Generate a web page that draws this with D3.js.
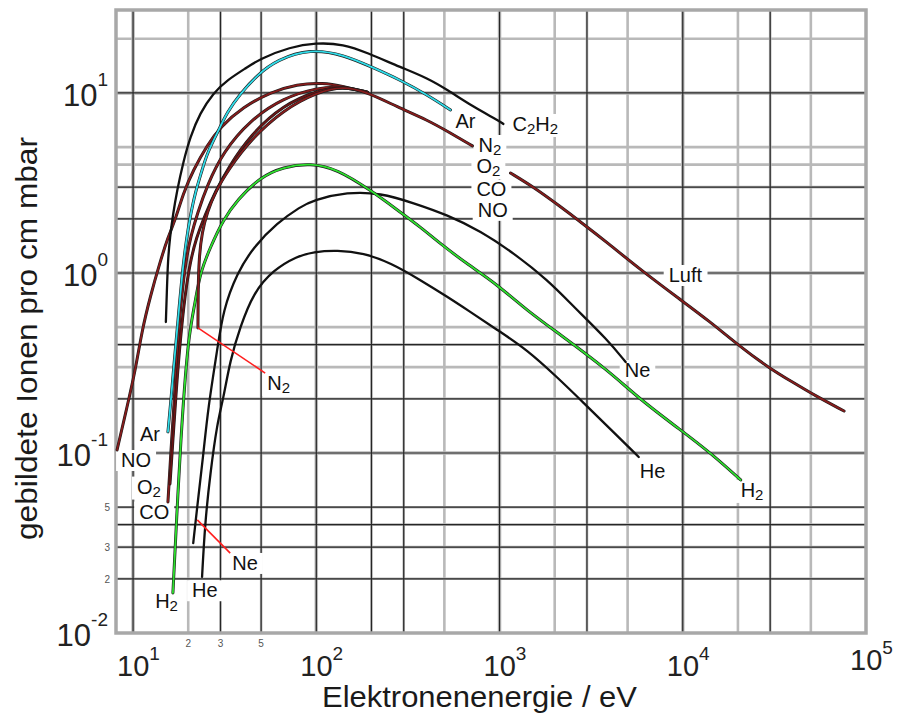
<!DOCTYPE html>
<html><head><meta charset="utf-8">
<script src="https://cdn.jsdelivr.net/npm/d3@7"></script>
<style>
body{margin:0;background:#fff;}
text{font-family:"Liberation Sans",Arial,Helvetica,sans-serif;}
</style>
</head><body>
<svg id="chart" width="899" height="715"></svg>
<script>
// ---------- data (energy in eV, ions per cm mbar) ----------
const xGridValues = [10,20,30,50,100,200,300,500,1000,2000,3000,5000,10000,20000,30000,50000];
const yGridValues = [0.02,0.03,0.04,0.05,0.1,0.2,0.3,0.4,0.5,1,2,3,4,5,10,20];
const xDecadeTicks = [10,100,1000,10000,100000];
const xDecadeExp = ["1","2","3","4","5"];
const yDecadeTicks = [10,1,0.1,0.01];
const yDecadeExp = ["1","0","-1","-2"];
const xSmallTicks = [20,30,50];
const xSmallLabels = ["2","3","5"];
const ySmallTicks = [0.05,0.03,0.02];
const ySmallLabels = ["5","3","2"];

const C2H2 = [[15.1,0.534],[15.3,0.805],[15.5,1.18],[15.9,1.58],[16.5,2.10],[17.4,2.89],[18.8,4.14],[20.5,5.7],[23.2,7.74],[27.4,10.0],[32.6,11.8],[42.0,13.9],[49.4,15.5],[72,18.0],[99,19.0],[141,18.7],[190,16.7],[288,13.9],[404,12.1],[520,10.4],[721,8.36],[975,7.08],[1050,6.73]];
const Ar = [[15.5,0.131],[16.1,0.197],[16.8,0.329],[17.6,0.548],[18.5,0.975],[19.5,1.52],[20.5,2.05],[21.8,2.78],[23.8,3.73],[25.4,4.64],[28.8,5.99],[32.6,7.84],[38.4,9.87],[47.6,12.6],[61.2,15.3],[92.7,17.6],[141,16.3],[205,13.8],[288,11.8],[404,9.75],[540,8.05]];
const NO = [[8.18,0.104],[9.27,0.180],[10.3,0.289],[11.2,0.482],[12.4,0.736],[14.0,1.14],[15.5,1.58],[17.0,1.97],[18.8,2.78],[21.3,3.73],[25.4,5.14],[29.9,6.47],[39.9,8.36],[56.1,10.1],[78.7,11.2],[109,11.4],[140,10.9],[190,10.1]];
const O2 = [[15.5,0.0534],[16.1,0.104],[16.8,0.197],[17.4,0.373],[18.3,0.708],[19.5,1.21],[20.7,1.61],[22.4,2.13],[25.4,3.08],[31.0,4.70],[43.6,7.08],[66.0,9.38],[101,10.7],[140,10.9],[190,10.1]];
const CO = [[15.9,0.0673],[16.5,0.118],[17.2,0.224],[18.1,0.425],[19.2,0.755],[20.5,1.15],[22.1,1.56],[24.7,2.10],[28.1,2.82],[33.0,3.83],[43.6,5.84],[66.0,8.58],[101,10.3],[140,10.9],[190,10.1]];
const N2 = [[22.6,0.495],[22.65,0.805],[22.9,1.21],[23.8,1.69],[25.4,2.18],[28.1,2.82],[33.0,3.73],[43.6,5.48],[66.0,8.05],[101,10.1],[140,10.9],[190,10.1],[277,8.36],[404,7.08],[540,5.99],[711,5.08]];
const Luft = [[1148,3.59],[1535,3.0],[2155,2.33],[2773,1.92],[3890,1.47],[5890,1.04],[9750,0.708],[13700,0.548],[20700,0.388],[29100,0.30],[40400,0.245],[52000,0.21],[75900,0.171]];
const H2 = [[16.5,0.0167],[17.6,0.0623],[18.5,0.153],[20.0,0.441],[21.8,0.681],[23.2,1.0],[26.4,1.39],[31.0,1.97],[37.0,2.54],[49.4,3.41],[66.0,3.88],[92.7,4.08],[130,3.78],[197,2.89],[277,2.24],[370,1.80],[494,1.41],[668,1.12],[975,0.86],[1422,0.615],[2155,0.453],[3890,0.289],[5890,0.197],[9750,0.134],[14200,0.10],[20700,0.0708]];
const Ne = [[21.3,0.0316],[22.6,0.0548],[24.1,0.095],[25.7,0.180],[28.8,0.373],[31.0,0.623],[37.0,1.0],[45.3,1.39],[61.2,1.90],[81.8,2.33],[96.3,2.54],[148,2.82],[224,2.78],[339,2.45],[520,2.10],[787,1.71],[1194,1.29],[1830,0.914],[2537,0.65],[3890,0.425],[4880,0.32]];
const He = [[23.8,0.0205],[24.7,0.0408],[26.4,0.0774],[28.8,0.147],[31.0,0.197],[33.9,0.329],[38.4,0.50],[45.3,0.774],[58.2,1.04],[78.7,1.24],[96.3,1.31],[130,1.34],[181,1.29],[254,1.14],[370,0.914],[520,0.736],[668,0.623],[975,0.482],[1422,0.373],[2075,0.262],[2877,0.19],[4045,0.135],[5750,0.095]];

const seriesList = [
  {name:"He", data:He, color:"#111", kind:"black"},
  {name:"Ne", data:Ne, color:"#111", kind:"black"},
  {name:"H2", data:H2, color:"#2ee02e", kind:"color"},
  {name:"NO", data:NO, color:"#861c1c", kind:"color"},
  {name:"O2", data:O2, color:"#861c1c", kind:"color"},
  {name:"CO", data:CO, color:"#6a1414", kind:"color"},
  {name:"N2", data:N2, color:"#861c1c", kind:"color"},
  {name:"Luft", data:Luft, color:"#861c1c", kind:"color"},
  {name:"C2H2", data:C2H2, color:"#111", kind:"black"},
  {name:"Ar", data:Ar, color:"#30dbe8", kind:"color"}
];

// pointer lines (red): from curve start to label
const pointers = [
  [[22.6,0.495],[52.6,0.278]],
  [[22.4,0.0425],[33.9,0.0278]]
];

// labels: text parts [text, isSubscript], anchor position in data units
const labels = [
  {parts:[["Ar",0]], E:575, v:6.39},
  {parts:[["C",0],["2",1],["H",0],["2",1]], E:1178, v:6.15},
  {parts:[["N",0],["2",1]], E:768, v:4.70},
  {parts:[["O",0],["2",1]], E:748, v:3.58},
  {parts:[["CO",0]], E:748, v:2.66},
  {parts:[["NO",0]], E:760, v:2.05},
  {parts:[["Luft",0]], E:8380, v:0.891},
  {parts:[["Ne",0]], E:4820, v:0.264},
  {parts:[["He",0]], E:5820, v:0.0726},
  {parts:[["H",0],["2",1]], E:20700, v:0.057},
  {parts:[["Ar",0]], E:10.9, v:0.117},
  {parts:[["NO",0]], E:8.6, v:0.0836},
  {parts:[["O",0],["2",1]], E:10.5, v:0.0595},
  {parts:[["CO",0]], E:10.8, v:0.0432},
  {parts:[["N",0],["2",1]], E:54, v:0.224},
  {parts:[["Ne",0]], E:34.8, v:0.0224},
  {parts:[["He",0]], E:21.0, v:0.0158},
  {parts:[["H",0],["2",1]], E:13.2, v:0.0138}
];

const xTitle = "Elektronenenergie / eV";
const yTitle = "gebildete Ionen pro cm  mbar";

// ---------- drawing ----------
const svg = d3.select("#chart");
const L = 116, R = 866, T = 10, B = 633;
const x = d3.scaleLog().domain([8.07, 100000]).range([L, R]);
const y = d3.scaleLog().domain([0.01, 28.9]).range([B, T]);

const grid = svg.append("g");
const lightX = new Set([20,500,2000,5000,20000,50000]);
const lightY = new Set([20,5,4,0.5,0.3]);
const decade = v => Math.abs(Math.log10(v) - Math.round(Math.log10(v))) < 1e-6;

xGridValues.forEach(v => {
  grid.append("line").attr("x1",x(v)).attr("x2",x(v)).attr("y1",T).attr("y2",B)
    .attr("stroke","#b9b9b9").attr("stroke-width", decade(v)?3.5:2.6);
});
yGridValues.forEach(v => {
  grid.append("line").attr("y1",y(v)).attr("y2",y(v)).attr("x1",L).attr("x2",R)
    .attr("stroke","#b9b9b9").attr("stroke-width", decade(v)?3.5:2.6);
});
xGridValues.forEach(v => {
  if (lightX.has(v)) return;
  grid.append("line").attr("x1",x(v)).attr("x2",x(v)).attr("y1",T).attr("y2",B)
    .attr("stroke","#262626").attr("stroke-width",1.2);
});
yGridValues.forEach(v => {
  if (lightY.has(v)) return;
  grid.append("line").attr("y1",y(v)).attr("y2",y(v)).attr("x1",L).attr("x2",R)
    .attr("stroke","#262626").attr("stroke-width",1.2);
});
grid.append("rect").attr("x",L).attr("y",T).attr("width",R-L).attr("height",B-T)
  .attr("fill","none").attr("stroke","#a8a8a8").attr("stroke-width",3.5);

const bgGroup = svg.append("g");

// curves
const line = d3.line().x(d=>x(d[0])).y(d=>y(d[1])).curve(d3.curveBasis);
const cg = svg.append("g").attr("fill","none").attr("stroke-linecap","round").attr("stroke-linejoin","round");
seriesList.forEach(s => {
  if (s.kind === "black") {
    cg.append("path").attr("d", line(s.data)).attr("stroke","#111").attr("stroke-width",2.3);
  } else {
    cg.append("path").attr("d", line(s.data)).attr("stroke","#1c1c1c").attr("stroke-width",3.0);
    cg.append("path").attr("d", line(s.data)).attr("stroke",s.color).attr("stroke-width",1.8);
  }
});

// red pointers
pointers.forEach(p => {
  svg.append("line").attr("x1",x(p[0][0])).attr("y1",y(p[0][1]))
    .attr("x2",x(p[1][0])).attr("y2",y(p[1][1]))
    .attr("stroke","#ff1e1e").attr("stroke-width",1.6);
});

// curve labels
const lg = svg.append("g");
labels.forEach(lb => {
  const t = lg.append("text").attr("x",x(lb.E)).attr("y",y(lb.v))
    .attr("font-size",20).attr("fill","#111");
  let sub = false;
  lb.parts.forEach(pt => {
    const ts = t.append("tspan").text(pt[0]);
    if (pt[1] && !sub) { ts.attr("dy",3).attr("font-size",15); sub = true; }
    else if (!pt[1] && sub) { ts.attr("dy",-3).attr("font-size",20); sub = false; }
    else if (pt[1]) { ts.attr("font-size",15); }
  });
  const bb = t.node().getBBox();
  bgGroup.append("rect").attr("x",bb.x-5).attr("y",bb.y+1).attr("width",bb.width+10)
    .attr("height",bb.height-1).attr("fill","#fff");
});

// axis tick labels (decades)
const ax = svg.append("g").attr("fill","#222");
xDecadeTicks.forEach((v,i) => {
  const t = ax.append("text").attr("x", x(v)-16).attr("y", v===100000 ? 670 : 676)
    .attr("font-size",29).attr("text-anchor","start");
  t.append("tspan").text("10");
  t.append("tspan").attr("dy",-16).attr("font-size",19).text(xDecadeExp[i]);
});
yDecadeTicks.forEach((v,i) => {
  const t = ax.append("text").attr("x",108).attr("y", y(v)+13)
    .attr("font-size",31).attr("text-anchor","end");
  t.append("tspan").text("10");
  t.append("tspan").attr("dy",-20).attr("font-size",19).text(yDecadeExp[i]);
});
xSmallTicks.forEach((v,i) => {
  ax.append("text").attr("x",x(v)).attr("y",647).attr("font-size",10)
    .attr("text-anchor","middle").attr("fill","#555").text(xSmallLabels[i]);
});
ySmallTicks.forEach((v,i) => {
  ax.append("text").attr("x",110).attr("y",y(v)+4).attr("font-size",10)
    .attr("text-anchor","end").attr("fill","#555").text(ySmallLabels[i]);
});

// titles
svg.append("text").attr("x",479.5).attr("y",707).attr("text-anchor","middle")
  .attr("font-size",30).attr("fill","#1a1a1a")
  .attr("textLength",315).attr("lengthAdjust","spacingAndGlyphs").text(xTitle);
svg.append("text").attr("transform","translate(37,338.5) rotate(-90)")
  .attr("text-anchor","middle").attr("font-size",30).attr("fill","#1a1a1a")
  .attr("textLength",403).attr("lengthAdjust","spacingAndGlyphs").text(yTitle);
</script>
</body></html>
